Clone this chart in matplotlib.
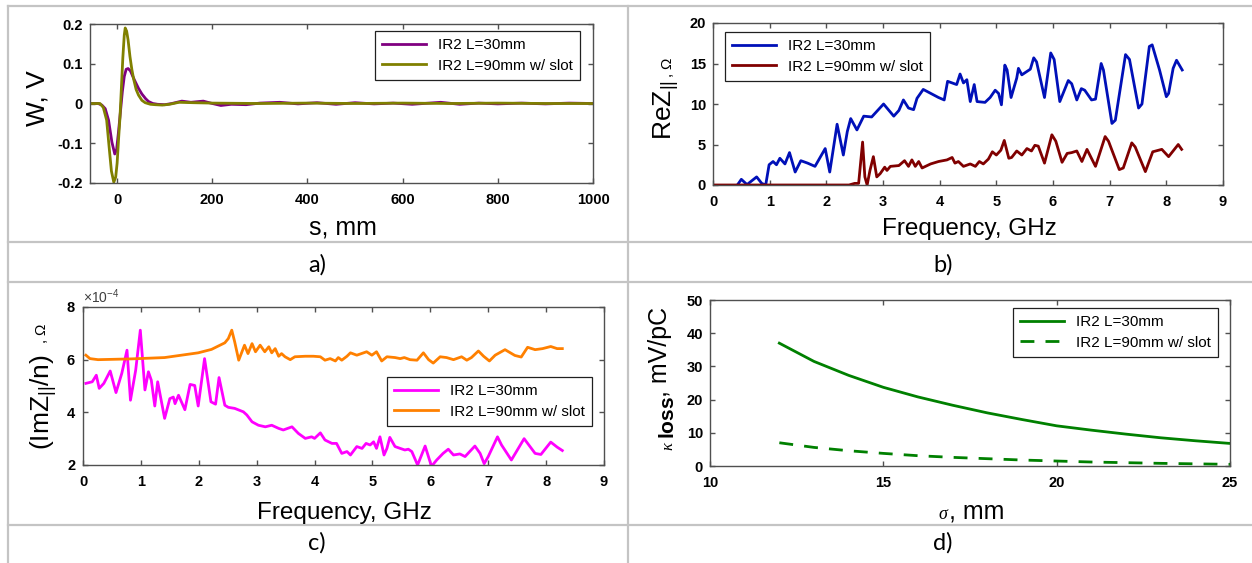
import matplotlib
matplotlib.use("Agg")
import matplotlib.pyplot as plt
from matplotlib.lines import Line2D
from matplotlib.ticker import ScalarFormatter

plt.rcParams['font.family'] = ['Liberation Sans', 'DejaVu Sans']
plt.rcParams['mathtext.fontset'] = 'custom'
plt.rcParams['mathtext.rm'] = 'Liberation Sans'
plt.rcParams['mathtext.it'] = 'Liberation Serif:italic'
plt.rcParams['mathtext.bf'] = 'Liberation Sans:bold'

W, H = 1252, 563

legend_labels = ['IR2 L=30mm', 'IR2 L=90mm w/ slot']

# a) wake potential
a_s30 = [-57, -40, -32, -25, -18, -11, -5, -1, 3, 7, 11, 15, 19, 23, 28, 33, 38, 45, 52,
         60, 66, 75, 85, 100, 115, 136, 155, 181, 200, 218, 240, 271, 300, 342, 380, 420,
         460, 500, 540, 580, 620, 680, 720, 760, 800, 850, 900, 950, 1000]
a_w30 = [0, 0, -0.004, -0.013, -0.042, -0.097, -0.127, -0.115, -0.07, -0.02, 0.03, 0.068,
         0.086, 0.088, 0.082, 0.068, 0.055, 0.038, 0.024, 0.012, 0.005, 0.0, -0.002, -0.003,
         0.0, 0.006, 0.003, 0.006, 0.0, -0.005, -0.002, -0.003, 0.001, 0.003, -0.001, 0.002,
         -0.002, 0.002, -0.001, 0.001, -0.002, 0.003, -0.002, 0.001, -0.001, 0.001, -0.001,
         0.001, 0]
a_s90 = [-57, -36, -29, -22, -16, -12, -7, -3, 0, 3, 6, 9, 12, 15, 17, 20, 23, 27, 31, 35,
         40, 45, 52, 59, 70, 80, 95, 110, 130, 160, 200, 300, 400, 500, 600, 700, 800, 900,
         1000]
a_w90 = [0, 0, -0.01, -0.042, -0.12, -0.17, -0.198, -0.185, -0.15, -0.09, -0.035, 0.04,
         0.115, 0.172, 0.19, 0.182, 0.16, 0.118, 0.085, 0.06, 0.035, 0.021, 0.008, 0.002,
         -0.002, -0.003, -0.004, -0.002, 0.003, 0.002, 0.001, 0.0, 0.001, 0.0, 0.001, 0.0,
         0.001, 0.0, 0.0]

# b) real part of longitudinal impedance
b_f30 = [0.42, 0.50, 0.60, 0.77, 0.86, 0.93, 0.99, 1.06, 1.12, 1.18,
         1.27, 1.35, 1.45, 1.55, 1.67, 1.80, 1.98, 2.06, 2.19, 2.30,
         2.37, 2.43, 2.54, 2.66, 2.80, 3.01, 3.19, 3.28, 3.36, 3.45,
         3.54, 3.60, 3.71, 3.98, 4.08, 4.14, 4.30, 4.36, 4.42, 4.48,
         4.54, 4.61, 4.66, 4.80, 4.89, 4.98, 5.04, 5.09, 5.15, 5.19,
         5.26, 5.36, 5.39, 5.45, 5.60, 5.66, 5.71, 5.85, 5.96, 6.02,
         6.12, 6.27, 6.33, 6.42, 6.50, 6.56, 6.68, 6.75, 6.85, 6.89,
         7.04, 7.10, 7.28, 7.35, 7.51, 7.57, 7.70, 7.75, 7.88, 8.00,
         8.04, 8.12, 8.18, 8.28]
b_z30 = [-0.1, 0.7, 0.05, 1.0, 0.2, 0.0, 2.5, 2.9, 2.5, 3.3,
         2.6, 4.0, 1.6, 3.0, 2.7, 2.3, 4.5, 1.6, 7.5, 3.7,
         6.6, 8.2, 6.8, 8.5, 8.4, 10.0, 8.5, 9.2, 10.5, 9.5,
         9.3, 10.7, 11.8, 10.8, 10.5, 12.8, 12.4, 13.7, 12.6, 13.0,
         10.3, 12.4, 10.3, 10.2, 10.8, 11.7, 11.3, 9.9, 14.8, 14.2,
         10.8, 13.2, 14.4, 13.6, 14.3, 15.7, 15.2, 10.8, 16.3, 15.5,
         10.3, 12.9, 12.5, 10.5, 11.9, 11.7, 10.5, 10.6, 15.0, 14.2,
         7.6, 8.0, 16.1, 15.5, 9.5, 10.0, 17.1, 17.3, 14.2, 10.9,
         11.3, 14.4, 15.4, 14.2]
b_f90 = [0.0, 2.40, 2.50, 2.57, 2.64, 2.68, 2.72, 2.77, 2.83, 2.89,
         2.95, 3.03, 3.07, 3.13, 3.28, 3.38, 3.45, 3.51, 3.57, 3.63,
         3.69, 3.84, 3.98, 4.13, 4.22, 4.27, 4.33, 4.42, 4.54, 4.63,
         4.70, 4.77, 4.86, 4.93, 5.00, 5.08, 5.14, 5.22, 5.27, 5.36,
         5.45, 5.54, 5.62, 5.68, 5.74, 5.85, 5.98, 6.05, 6.16, 6.25,
         6.33, 6.42, 6.51, 6.60, 6.75, 6.92, 6.98, 7.17, 7.24, 7.39,
         7.45, 7.63, 7.76, 7.92, 8.04, 8.21, 8.27]
b_z90 = [0.0, 0.0, 0.2, 0.2, 5.3, 1.0, 0.0, 1.8, 3.5, 1.0,
         1.4, 2.2, 1.8, 2.3, 2.4, 3.0, 2.3, 3.1, 2.3, 2.9,
         2.1, 2.6, 2.9, 3.1, 3.4, 2.7, 2.9, 2.3, 2.6, 2.3,
         2.9, 2.6, 3.2, 4.1, 3.7, 4.3, 5.5, 3.3, 3.4, 4.2,
         3.7, 4.5, 4.2, 4.9, 4.8, 2.7, 6.2, 5.4, 2.8, 3.9,
         4.0, 4.2, 2.9, 4.4, 2.3, 5.98, 5.4, 1.9, 2.1, 5.2,
         4.7, 1.65, 4.1, 4.4, 3.5, 5.0, 4.4]

# c) imaginary part / n, in units of 1e-4
c_f30 = [0.05, 0.16, 0.23, 0.28, 0.36, 0.47, 0.57, 0.67, 0.76, 0.82,
         0.91, 0.99, 1.07, 1.13, 1.18, 1.24, 1.29, 1.41, 1.50, 1.56,
         1.59, 1.65, 1.76, 1.85, 1.93, 1.99, 2.10, 2.21, 2.29, 2.35,
         2.45, 2.51, 2.62, 2.77, 2.83, 2.92, 3.03, 3.15, 3.26, 3.38,
         3.46, 3.61, 3.72, 3.84, 3.95, 4.00, 4.10, 4.18, 4.30, 4.38,
         4.47, 4.56, 4.62, 4.73, 4.82, 4.89, 4.96, 5.02, 5.07, 5.13,
         5.20, 5.25, 5.30, 5.39, 5.48, 5.56, 5.62, 5.68, 5.78, 5.91,
         6.02, 6.11, 6.22, 6.31, 6.40, 6.51, 6.60, 6.68, 6.77, 6.86,
         6.93, 7.00, 7.16, 7.23, 7.40, 7.62, 7.81, 7.91, 8.08, 8.19,
         8.28]
c_z30 = [5.10, 5.16, 5.41, 4.91, 5.10, 5.57, 4.75, 5.48, 6.36, 4.46,
         5.60, 7.12, 4.85, 5.54, 5.22, 4.24, 5.16, 3.77, 4.52, 4.58,
         4.33, 4.65, 4.10, 5.06, 5.02, 4.24, 6.04, 4.40, 4.31, 5.32,
         4.27, 4.19, 4.15, 4.02, 3.90, 3.64, 3.51, 3.45, 3.51, 3.39,
         3.33, 3.45, 3.20, 3.01, 3.07, 3.01, 3.22, 2.95, 2.82, 2.82,
         2.44, 2.51, 2.38, 2.70, 2.63, 2.82, 2.76, 2.88, 2.63, 3.07,
         2.38, 2.63, 3.05, 2.70, 2.63, 2.57, 2.60, 2.51, 2.00, 2.72,
         1.95, 2.19, 2.44, 2.60, 2.38, 2.42, 2.32, 2.51, 2.72, 2.44,
         2.05, 2.32, 3.07, 2.76, 2.19, 3.00, 2.44, 2.40, 2.87, 2.68,
         2.55]
c_f90 = [0.05, 0.12, 0.26, 0.84, 1.41, 1.99, 2.22, 2.45, 2.51, 2.57,
         2.62, 2.69, 2.79, 2.85, 2.92, 2.98, 3.06, 3.14, 3.21, 3.26,
         3.32, 3.38, 3.43, 3.49, 3.58, 3.66, 3.84, 3.98, 4.10, 4.18,
         4.27, 4.36, 4.41, 4.47, 4.56, 4.62, 4.73, 4.90, 4.99, 5.07,
         5.16, 5.25, 5.39, 5.48, 5.55, 5.65, 5.77, 5.88, 5.97, 6.05,
         6.17, 6.28, 6.40, 6.54, 6.63, 6.71, 6.83, 6.92, 7.02, 7.12,
         7.29, 7.46, 7.57, 7.68, 7.81, 7.94, 8.08, 8.19, 8.28]
c_z90 = [6.17, 6.04, 6.00, 6.03, 6.08, 6.26, 6.39, 6.64, 6.80, 7.12,
         6.68, 5.98, 6.55, 6.23, 6.61, 6.30, 6.55, 6.30, 6.49, 6.26,
         6.42, 6.13, 6.23, 6.11, 6.00, 6.11, 6.13, 6.13, 6.11, 5.98,
         6.04, 5.95, 6.08, 5.98, 6.13, 6.26, 6.17, 6.30, 6.17, 6.30,
         5.95, 6.11, 6.08, 6.04, 6.08, 6.00, 5.98, 6.26, 6.00, 5.87,
         6.11, 6.08, 6.00, 6.11, 5.98, 6.08, 6.33, 6.13, 5.95, 6.17,
         6.38, 6.16, 6.10, 6.47, 6.38, 6.42, 6.50, 6.42, 6.42]

# d) loss factor vs bunch length
d_sigma = [12, 13, 14, 15, 16, 17, 18, 19, 20, 21, 22, 23, 24, 25]
d_k30 = [37.0, 31.5, 27.3, 23.7, 20.8, 18.3, 16.0, 14.0, 12.1, 10.8, 9.6, 8.5, 7.6, 6.8]
d_k90 = [7.0, 5.6, 4.6, 3.8, 3.1, 2.6, 2.2, 1.8, 1.5, 1.2, 1.0, 0.8, 0.65, 0.5]


def px_axes(fig, left, top, right, bottom):
    return fig.add_axes([left / W, 1 - bottom / H, (right - left) / W, (bottom - top) / H])


def ftext(fig, x, y, s, **kw):
    fig.text(x / W, 1 - y / H, s, **kw)


def style(ax):
    for sp in ax.spines.values():
        sp.set_color('#505050')
        sp.set_linewidth(1.0)
    ax.tick_params(direction='in', top=True, right=True, length=3.5, width=1,
                   color='#505050', labelsize=10.5)
    ax.tick_params(axis='x', pad=7.5)
    ax.tick_params(axis='y', pad=5)
    for lab in ax.get_xticklabels() + ax.get_yticklabels():
        lab.set_fontweight('bold')


def legend(ax, loc, anchor):
    leg = ax.legend(legend_labels, loc=loc, bbox_to_anchor=anchor, fontsize=11,
                    fancybox=False, framealpha=1, edgecolor='#202020',
                    handlelength=2.9, borderaxespad=0, borderpad=0.45, labelspacing=0.45)
    leg.get_frame().set_linewidth(0.9)


fig = plt.figure(figsize=(W / 100, H / 100), dpi=100)

# table grid
gc = '#c4c4c4'
for y in [5.5, 241.5, 282, 524.5]:
    fig.add_artist(Line2D([8 / W, 1], [1 - y / H, 1 - y / H], color=gc, lw=1.6))
for x in [8, 628]:
    fig.add_artist(Line2D([x / W, x / W], [1 - 5.5 / H, 0], color=gc, lw=1.6))

# a)
ax = px_axes(fig, 90, 24, 593, 183)
ax.plot(a_s30, a_w30, color='#800080', lw=2)
ax.plot(a_s90, a_w90, color='#808000', lw=2)
ax.set_xlim(-57, 1000)
ax.set_ylim(-0.2, 0.2)
ax.set_xticks([0, 200, 400, 600, 800, 1000])
ax.set_yticks([-0.2, -0.1, 0, 0.1, 0.2])
ax.set_yticklabels(['-0.2', '-0.1', '0', '0.1', '0.2'])
style(ax)
legend(ax, 'upper right', (1 - 13 / 503, 1 - 7 / 159))
ftext(fig, 38, 98, 'W, V', fontsize=19, rotation=90, ha='center', va='center')
ftext(fig, 343, 235, 's, mm', fontsize=18, ha='center', va='baseline')

# b)
ax = px_axes(fig, 713, 23, 1223, 185)
ax.plot(b_f30, b_z30, color='#0010b8', lw=2)
ax.plot(b_f90, b_z90, color='#800000', lw=2)
ax.set_xlim(0, 9)
ax.set_ylim(0, 20)
ax.set_xticks(range(0, 10))
ax.set_yticks([0, 5, 10, 15, 20])
style(ax)
legend(ax, 'upper left', (12 / 510, 1 - 9 / 162))
ftext(fig, 667, 110, 'ReZ$_{||}$', fontsize=19, rotation=90, ha='center', va='center')
ftext(fig, 668, 67, ', $\\Omega$', fontsize=11, rotation=90, ha='center', va='center')
ftext(fig, 969, 235, 'Frequency, GHz', fontsize=17.5, ha='center', va='baseline')

# c)
ax = px_axes(fig, 83, 307, 604, 465)
ax.plot(c_f30, [v * 1e-4 for v in c_z30], color='#ff00ff', lw=2)
ax.plot(c_f90, [v * 1e-4 for v in c_z90], color='#ff8000', lw=2)
ax.set_xlim(0, 9)
ax.set_ylim(2e-4, 8e-4)
ax.set_xticks(range(0, 10))
ax.set_yticks([2e-4, 4e-4, 6e-4, 8e-4])
fmt = ScalarFormatter(useMathText=True)
fmt.set_powerlimits((0, 0))
ax.yaxis.set_major_formatter(fmt)
ax.yaxis.get_offset_text().set_fontsize(10)
ax.yaxis.get_offset_text().set_color('#404040')
style(ax)
legend(ax, 'upper right', (1 - 12 / 521, 1 - 70 / 158))
ftext(fig, 44, 402, '(ImZ$_{||}$/n)', fontsize=19, rotation=90, ha='center', va='center')
ftext(fig, 42, 333, ', $\\Omega$', fontsize=11, rotation=90, ha='center', va='center')
ftext(fig, 344, 519, 'Frequency, GHz', fontsize=17.5, ha='center', va='baseline')

# d)
ax = px_axes(fig, 710, 300, 1230, 466)
ax.plot(d_sigma, d_k30, color='#008000', lw=2)
ax.plot(d_sigma, d_k90, color='#008000', lw=2, dashes=(5, 4))
ax.set_xlim(10, 25)
ax.set_ylim(0, 50)
ax.set_xticks([10, 15, 20, 25])
ax.set_yticks([0, 10, 20, 30, 40, 50])
style(ax)
legend(ax, 'upper right', (1 - 12 / 520, 1 - 8 / 166))
ftext(fig, 660, 352, ', mV/pC', fontsize=18, rotation=90, ha='center', va='center')
ftext(fig, 668, 418, '$\\mathbf{loss}$', fontsize=15, rotation=90, ha='center', va='center')
ftext(fig, 668, 446, '$\\kappa$', fontsize=12, rotation=90, ha='center', va='center')
ftext(fig, 944, 519, '$\\sigma$', fontsize=13, ha='center', va='baseline')
ftext(fig, 977, 519, ', mm', fontsize=18, ha='center', va='baseline')

# captions
for x, y, s in [(317, 265, 'a)'), (943, 265, 'b)'), (317, 543, 'c)'), (943, 543, 'd)')]:
    ftext(fig, x, y, s, fontsize=17, ha='center', va='center', family='Lato')

fig.savefig('out.png', dpi=100)
